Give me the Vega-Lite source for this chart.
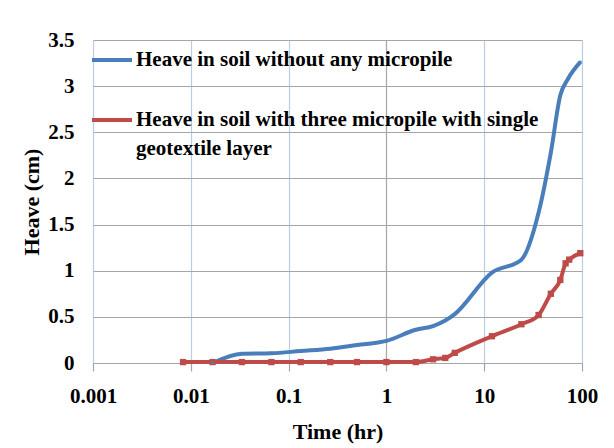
{
  "$schema": "https://vega.github.io/schema/vega-lite/v6.json",
  "width": 489,
  "height": 323,
  "autosize": {"type": "none"},
  "padding": {"left": 93, "top": 40, "right": 32, "bottom": 85},
  "background": "white",
  "config": {
    "view": {"stroke": null},
    "font": "Liberation Serif",
    "style": {"guide-label": {"lineHeight": 29}}
  },
  "data": {
    "values": [
      {"series": "Heave in soil without any micropile", "time": 0.0167, "heave": 0},
      {"series": "Heave in soil without any micropile", "time": 0.0333, "heave": 0.1},
      {"series": "Heave in soil without any micropile", "time": 0.0667, "heave": 0.105},
      {"series": "Heave in soil without any micropile", "time": 0.133, "heave": 0.13},
      {"series": "Heave in soil without any micropile", "time": 0.267, "heave": 0.155},
      {"series": "Heave in soil without any micropile", "time": 0.5, "heave": 0.195},
      {"series": "Heave in soil without any micropile", "time": 1, "heave": 0.24},
      {"series": "Heave in soil without any micropile", "time": 2, "heave": 0.36},
      {"series": "Heave in soil without any micropile", "time": 3, "heave": 0.4},
      {"series": "Heave in soil without any micropile", "time": 4, "heave": 0.46},
      {"series": "Heave in soil without any micropile", "time": 5, "heave": 0.53},
      {"series": "Heave in soil without any micropile", "time": 12, "heave": 0.98},
      {"series": "Heave in soil without any micropile", "time": 24, "heave": 1.12},
      {"series": "Heave in soil without any micropile", "time": 36, "heave": 1.63},
      {"series": "Heave in soil without any micropile", "time": 48, "heave": 2.28},
      {"series": "Heave in soil without any micropile", "time": 60, "heave": 2.9},
      {"series": "Heave in soil without any micropile", "time": 72, "heave": 3.08},
      {"series": "Heave in soil without any micropile", "time": 96, "heave": 3.26},
      {"series": "Heave in soil with three micropile with single geotextile layer", "time": 0.00833, "heave": 0.01},
      {"series": "Heave in soil with three micropile with single geotextile layer", "time": 0.0167, "heave": 0.01},
      {"series": "Heave in soil with three micropile with single geotextile layer", "time": 0.0333, "heave": 0.01},
      {"series": "Heave in soil with three micropile with single geotextile layer", "time": 0.0667, "heave": 0.01},
      {"series": "Heave in soil with three micropile with single geotextile layer", "time": 0.133, "heave": 0.01},
      {"series": "Heave in soil with three micropile with single geotextile layer", "time": 0.267, "heave": 0.01},
      {"series": "Heave in soil with three micropile with single geotextile layer", "time": 0.5, "heave": 0.01},
      {"series": "Heave in soil with three micropile with single geotextile layer", "time": 1, "heave": 0.01},
      {"series": "Heave in soil with three micropile with single geotextile layer", "time": 2, "heave": 0.01},
      {"series": "Heave in soil with three micropile with single geotextile layer", "time": 3, "heave": 0.04},
      {"series": "Heave in soil with three micropile with single geotextile layer", "time": 4, "heave": 0.055},
      {"series": "Heave in soil with three micropile with single geotextile layer", "time": 5, "heave": 0.11},
      {"series": "Heave in soil with three micropile with single geotextile layer", "time": 12, "heave": 0.29},
      {"series": "Heave in soil with three micropile with single geotextile layer", "time": 24, "heave": 0.42},
      {"series": "Heave in soil with three micropile with single geotextile layer", "time": 36, "heave": 0.52},
      {"series": "Heave in soil with three micropile with single geotextile layer", "time": 48, "heave": 0.75},
      {"series": "Heave in soil with three micropile with single geotextile layer", "time": 60, "heave": 0.9},
      {"series": "Heave in soil with three micropile with single geotextile layer", "time": 68, "heave": 1.08},
      {"series": "Heave in soil with three micropile with single geotextile layer", "time": 74, "heave": 1.12},
      {"series": "Heave in soil with three micropile with single geotextile layer", "time": 96, "heave": 1.19}
    ]
  },
  "encoding": {
    "x": {
      "field": "time",
      "type": "quantitative",
      "scale": {"type": "log", "domain": [0.001, 100], "nice": false},
      "axis": {
        "title": "Time (hr)",
        "values": [0.001, 0.01, 0.1, 1, 10, 100],
        "format": "~g",
        "grid": true,
        "gridColor": {"condition": {"test": "datum.value === 1", "value": "#A6A6A6"}, "value": "#B9CDE5"},
        "gridWidth": 1.2,
        "domainColor": "#A6A6A6",
        "domainWidth": 1.2,
        "tickColor": "#A6A6A6",
        "tickSize": 8,
        "tickWidth": 1.2,
        "labelFont": "Liberation Serif",
        "labelFontSize": 21,
        "labelFontWeight": "bold",
        "labelColor": "black",
        "labelPadding": 14,
        "labelFlush": false,
        "labelOverlap": false,
        "titleFont": "Liberation Serif",
        "titleFontSize": 22,
        "titleFontWeight": "bold",
        "titleColor": "black",
        "titleBaseline": "alphabetic",
        "titleY": 75
      }
    },
    "y": {
      "field": "heave",
      "type": "quantitative",
      "scale": {"domain": [0, 3.5], "nice": false},
      "axis": {
        "title": "Heave (cm)",
        "values": [0, 0.5, 1, 1.5, 2, 2.5, 3, 3.5],
        "format": "~g",
        "grid": true,
        "gridColor": "#A6A6A6",
        "gridWidth": 1.2,
        "domain": false,
        "ticks": false,
        "labelFont": "Liberation Serif",
        "labelFontSize": 21,
        "labelFontWeight": "bold",
        "labelColor": "black",
        "labelPadding": 19,
        "labelOverlap": false,
        "titleFont": "Liberation Serif",
        "titleFontSize": 22,
        "titleFontWeight": "bold",
        "titleColor": "black",
        "titleBaseline": "alphabetic",
        "titleX": -55,
        "titleY": 161.5
      }
    }
  },
  "layer": [
    {
      "mark": {"type": "line", "interpolate": "monotone", "strokeWidth": 4},
      "encoding": {
        "color": {
          "field": "series",
          "type": "nominal",
          "scale": {
            "domain": ["Heave in soil without any micropile", "Heave in soil with three micropile with single geotextile layer"],
            "range": ["#4A7EBB", "#BE4B48"]
          },
          "legend": {
            "orient": "none",
            "legendX": -3,
            "legendY": -2,
            "title": null,
            "padding": 0,
            "symbolType": "stroke",
            "symbolSize": 1600,
            "symbolStrokeWidth": 4,
            "labelFont": "Liberation Serif",
            "labelFontSize": 21,
            "labelFontWeight": "bold",
            "labelColor": "black",
            "labelLimit": 600,
            "labelOffset": 2,
            "labelBaseline": "middle",
            "rowPadding": 28,
            "labelExpr": "datum.label === 'Heave in soil with three micropile with single geotextile layer' ? ['Heave in soil with three micropile with single', 'geotextile layer'] : datum.label"
          }
        }
      }
    },
    {
      "transform": [{"filter": "datum.series === 'Heave in soil with three micropile with single geotextile layer'"}],
      "mark": {"type": "point", "shape": "square", "filled": true, "size": 40, "color": "#BE4B48", "opacity": 1}
    },
    {
      "transform": [{"filter": "datum.series === 'Heave in soil without any micropile'"}],
      "mark": {"type": "point", "shape": "square", "filled": true, "size": 8, "color": "#4A7EBB", "opacity": 1}
    }
  ]
}
